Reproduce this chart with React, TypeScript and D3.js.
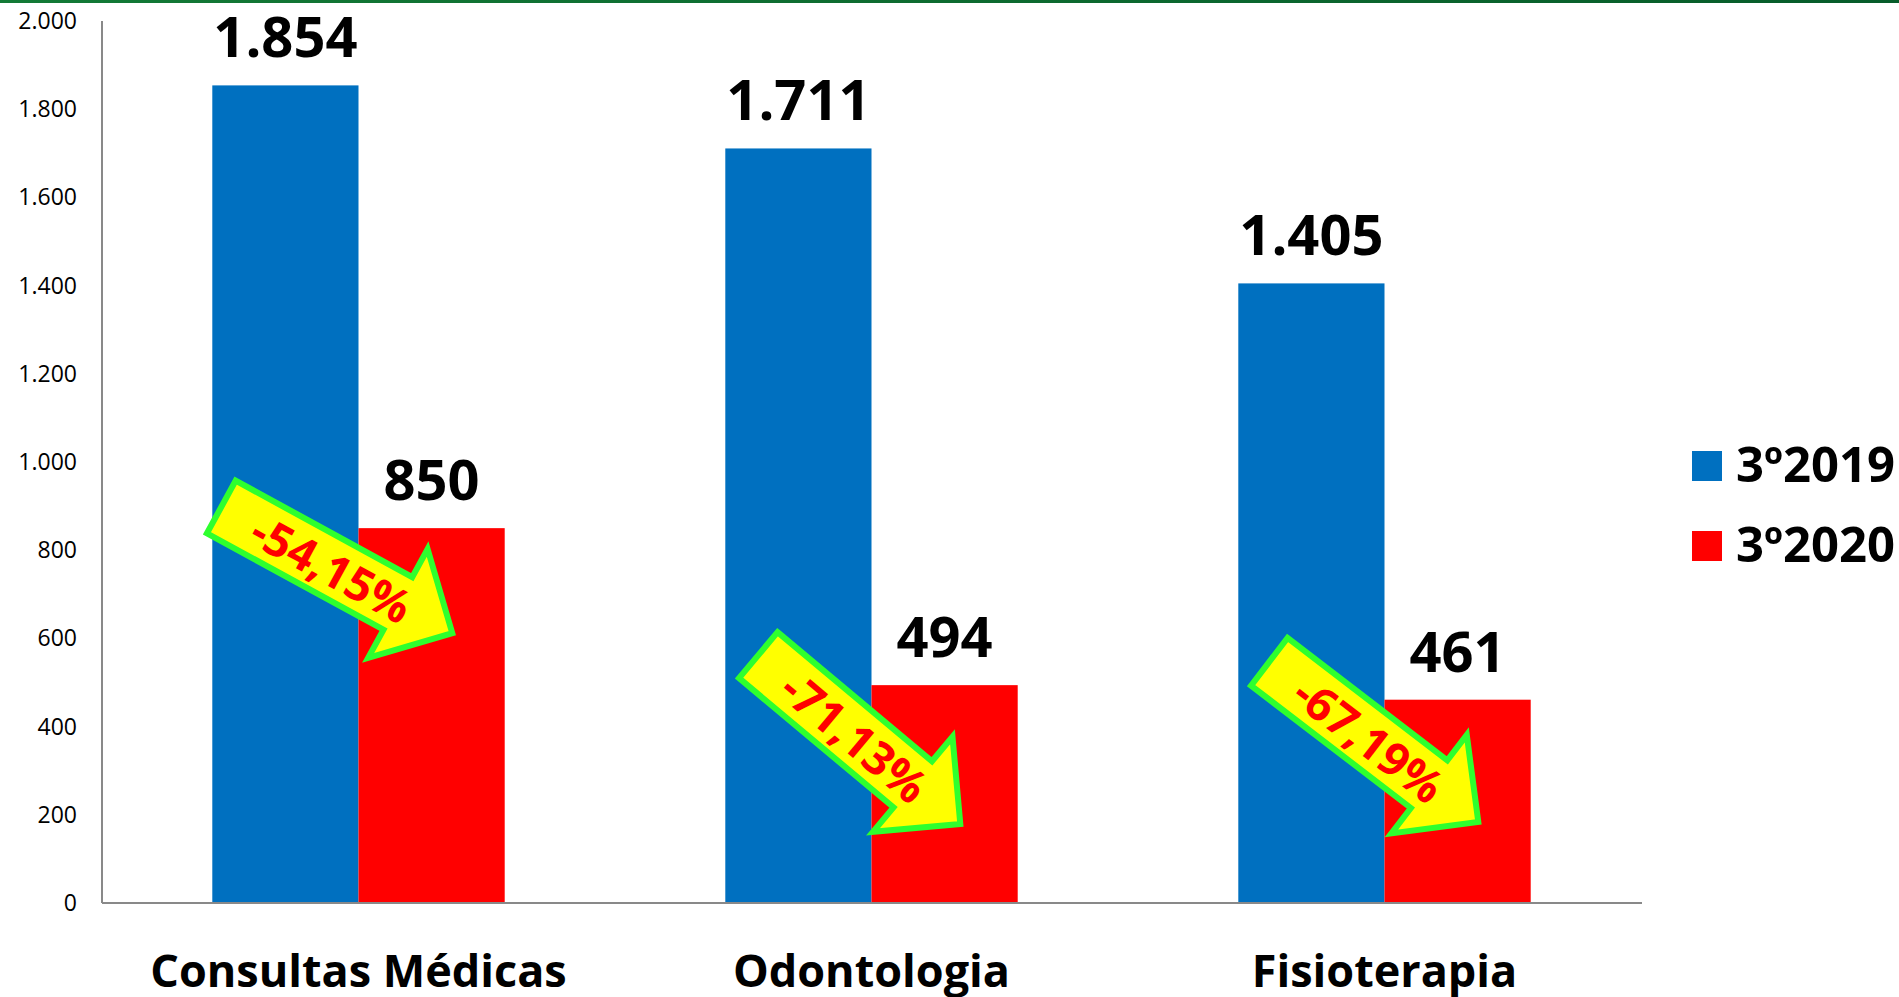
import React from "react";
import * as d3 from "d3";

const categories = ["Consultas Médicas", "Odontologia", "Fisioterapia"];
const seriesNames = ["3º2019", "3º2020"];
const values2019 = [1854, 1711, 1405];
const values2020 = [850, 494, 461];
const changeLabels = ["-54,15%", "-71,13%", "-67,19%"];
const yTicks = [0, 200, 400, 600, 800, 1000, 1200, 1400, 1600, 1800, 2000];

const W = 1899;
const H = 997;
const COLORS = ["#0070C0", "#FF0000"];
const FONT = "'Open Sans', 'Noto Sans', sans-serif";

const fmt = (v: number) => d3.format(",")(v).replace(/,/g, ".");

// Arrow annotation layout (relative to group start, in value units)
const arrowLayout = [
  { tailDx: 9, tailV: 898, tipDx: 240, tipV: 612 },
  { tailDx: 33, tailV: 562, tipDx: 235, tipV: 179 },
  { tailDx: 31, tailV: 547, tipDx: 240, tipV: 184 },
];

export default function App() {
  const left = 102;
  const right = 1641;
  const top = 21;
  const bottom = 903;

  const y = d3.scaleLinear().domain([0, 2000]).range([bottom, top]);
  const x0 = d3
    .scaleBand<string>()
    .domain(categories)
    .range([left, right])
    .paddingInner(0.43)
    .paddingOuter(0.215);
  const x1 = d3
    .scaleBand<string>()
    .domain(seriesNames)
    .range([0, x0.bandwidth()])
    .padding(0);

  const series = [values2019, values2020];

  const arrowPath = (L: number) => {
    const sw = 30;
    const hl = 62;
    const hw = 62;
    const pts: [number, number][] = [
      [0, -sw],
      [L - hl, -sw],
      [L - hl, -hw],
      [L, 0],
      [L - hl, hw],
      [L - hl, sw],
      [0, sw],
    ];
    return d3.line()(pts) + "Z";
  };

  return (
    <svg
      width={W}
      height={H}
      style={{ position: "absolute", left: 0, top: 0, background: "#fff" }}
      fontFamily={FONT}
    >
      <defs>
        <linearGradient id="topline" x1="0" x2="1" y1="0" y2="0">
          <stop offset="0" stopColor="#137a36" />
          <stop offset="1" stopColor="#075c2a" />
        </linearGradient>
      </defs>
      <rect x={0} y={0} width={W} height={3} fill="url(#topline)" />

      {/* y tick labels */}
      {yTicks.map((t) => (
        <text
          key={t}
          x={77}
          y={y(t)}
          dy="0.35em"
          textAnchor="end"
          fontSize={23}
          fill="#000"
        >
          {fmt(t)}
        </text>
      ))}

      {/* bars */}
      {categories.map((c, i) => (
        <g key={c} transform={`translate(${x0(c)},0)`}>
          {seriesNames.map((s, si) => {
            const v = series[si][i];
            return (
              <rect
                key={s}
                x={x1(s)}
                y={y(v)}
                width={x1.bandwidth()}
                height={y(0) - y(v)}
                fill={COLORS[si]}
              />
            );
          })}
          {seriesNames.map((s, si) => {
            const v = series[si][i];
            return (
              <text
                key={s + "l"}
                x={(x1(s) as number) + x1.bandwidth() / 2}
                y={y(v) - 28}
                textAnchor="middle"
                fontSize={56}
                fontWeight="bold"
                fill="#000"
              >
                {fmt(v)}
              </text>
            );
          })}
        </g>
      ))}

      {/* axes */}
      <line x1={left} x2={left} y1={top} y2={bottom} stroke="#898989" strokeWidth={2} />
      <line x1={left} x2={right + 1} y1={bottom} y2={bottom} stroke="#898989" strokeWidth={2} />

      {/* category labels */}
      {categories.map((c) => (
        <text
          key={c}
          x={(x0(c) as number) + x0.bandwidth() / 2}
          y={987}
          textAnchor="middle"
          fontSize={45}
          fontWeight="bold"
          fill="#000"
        >
          {c}
        </text>
      ))}

      {/* arrows */}
      {categories.map((c, i) => {
        const a = arrowLayout[i];
        const gx = x0(c) as number;
        const tx = gx + a.tailDx;
        const ty = y(a.tailV);
        const px = gx + a.tipDx;
        const py = y(a.tipV);
        const dx = px - tx;
        const dy = py - ty;
        const L = Math.hypot(dx, dy);
        const ang = (Math.atan2(dy, dx) * 180) / Math.PI;
        return (
          <g key={c + "a"} transform={`translate(${tx},${ty}) rotate(${ang})`}>
            <path
              d={arrowPath(L)}
              fill="#FFFF00"
              stroke="#2EFF2E"
              strokeWidth={6}
              strokeLinejoin="miter"
            />
            <text
              x={L * 0.48}
              y={2}
              dy="0.35em"
              textAnchor="middle"
              fontSize={46}
              fontWeight="bold"
              fill="#FF0000"
            >
              {changeLabels[i]}
            </text>
          </g>
        );
      })}

      {/* legend */}
      {seriesNames.map((s, si) => (
        <g key={s} transform={`translate(1692,${451 + si * 80})`}>
          <rect x={0} y={0} width={30} height={30} fill={COLORS[si]} />
          <text x={44} y={31} fontSize={49} fontWeight="bold" fill="#000">
            {s}
          </text>
        </g>
      ))}
    </svg>
  );
}
